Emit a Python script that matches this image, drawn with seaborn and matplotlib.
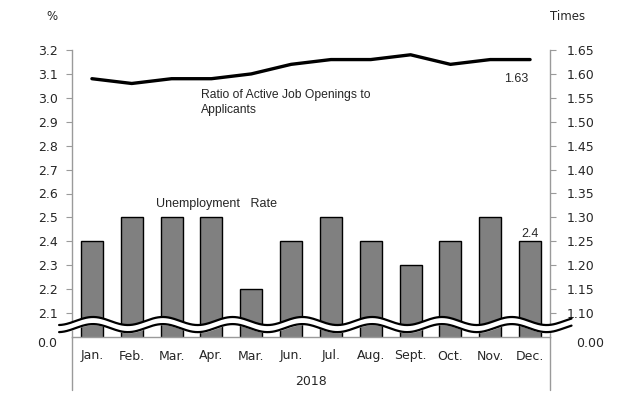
import numpy as np
import pandas as pd
import matplotlib
matplotlib.use("Agg")
import matplotlib.pyplot as plt
import seaborn as sns

# chart data
months = ["Jan.", "Feb.", "Mar.", "Apr.", "Mar.", "Jun.", "Jul.", "Aug.", "Sept.", "Oct.", "Nov.", "Dec."]
unemployment_rate = [2.4, 2.5, 2.5, 2.5, 2.2, 2.4, 2.5, 2.4, 2.3, 2.4, 2.5, 2.4]
job_ratio = [1.59, 1.58, 1.59, 1.59, 1.60, 1.62, 1.63, 1.63, 1.64, 1.62, 1.63, 1.63]
left_ticks = [2.1, 2.2, 2.3, 2.4, 2.5, 2.6, 2.7, 2.8, 2.9, 3.0, 3.1, 3.2]
right_ticks = [1.10, 1.15, 1.20, 1.25, 1.30, 1.35, 1.40, 1.45, 1.50, 1.55, 1.60, 1.65]
year_label = "2018"

df = pd.DataFrame({"pos": range(len(months)), "rate": unemployment_rate, "ratio": job_ratio})

sns.set_style("white")
plt.rcParams["font.family"] = ["DejaVu Sans"]
GRAY = "#9a9a9a"

fig = plt.figure(figsize=(6.37, 3.93), dpi=100)
ax = fig.add_axes([72 / 637, 1 - 337 / 393, 478 / 637, 287 / 393])

sns.barplot(data=df, x="pos", y="rate", color="#808080", edgecolor="black",
            linewidth=1.0, width=0.55, saturation=1, ax=ax)
ax.set_ylim(2.0, 3.2)
ax.set_xlim(-0.5, len(months) - 0.5)
ax.set_yticks(left_ticks)
ax.set_yticklabels([f"{v:.1f}" for v in left_ticks])
ax.set_xticks(range(len(months)))
ax.set_xticklabels(months)
ax.set_xlabel("")
ax.set_ylabel("")

ax2 = ax.twinx()
sns.lineplot(data=df, x="pos", y="ratio", color="black", linewidth=2.4, ax=ax2)
ax2.set_ylim(1.05, 1.65)
ax2.set_yticks(right_ticks)
ax2.set_yticklabels([f"{v:.2f}" for v in right_ticks])
ax2.set_xlim(-0.5, len(months) - 0.5)
ax2.set_ylabel("")
ax2.set_xlabel("")

for a in (ax, ax2):
    for side in ("left", "right", "bottom"):
        a.spines[side].set_color(GRAY)
        a.spines[side].set_linewidth(1.0)
    a.spines["top"].set_visible(False)
ax.spines["right"].set_visible(False)
ax2.spines["left"].set_visible(False)
ax2.spines["bottom"].set_visible(False)

ax.tick_params(axis="y", direction="out", length=4, color=GRAY, labelsize=9, pad=6, left=True)
ax.tick_params(axis="x", length=0, labelsize=9, pad=9)
ax2.tick_params(axis="y", direction="out", length=4, color=GRAY, labelsize=9, pad=8, right=True)

# broken-axis zero labels
ax.text(-0.032, -0.022, "0.0", transform=ax.transAxes, ha="right", va="center", fontsize=9)
ax2.text(1.055, -0.022, "0.00", transform=ax2.transAxes, ha="left", va="center", fontsize=9)

# category box lines and year label
for xv in (0, 1):
    ax.plot([xv, xv], [0, -0.185], transform=ax.transAxes, color=GRAY, lw=1.0, clip_on=False)
ax.text(0.5, -0.155, year_label, transform=ax.transAxes, ha="center", va="center", fontsize=9)

# axis titles
fig.text(52 / 637, 1 - 17 / 393, "%", ha="center", va="center", fontsize=8.5)
fig.text(568 / 637, 1 - 17 / 393, "Times", ha="center", va="center", fontsize=8.5)

# wavy break band
xs = np.linspace(-0.027, 1.045, 400)
period = 0.146
wave = 0.014 * np.cos(2 * np.pi * (xs - 0.044) / period)
upper = 0.0557 + wave
lower = 0.031 + wave
ax2.fill_between(xs, lower, upper, color="white", transform=ax2.transAxes, clip_on=False, zorder=5)
ax2.plot(xs, upper, color="black", lw=1.6, transform=ax2.transAxes, clip_on=False, zorder=6)
ax2.plot(xs, lower, color="black", lw=1.6, transform=ax2.transAxes, clip_on=False, zorder=6)

# annotations
ann = ["Calibri", "Liberation Sans", "DejaVu Sans"]
ax.text(3.12, 2.53, "Unemployment   Rate", ha="center", va="bottom", fontsize=9, family=ann)
ax.text(11, unemployment_rate[-1] + 0.005, f"{unemployment_rate[-1]:.1f}", ha="center", va="bottom",
        fontsize=9, family=ann)
ax2.text(2.75, 1.568, "Ratio of Active Job Openings to\nApplicants", ha="left", va="top",
         fontsize=8.7, family=ann, linespacing=1.35)
ax2.text(10.95, 1.602, f"{job_ratio[-1]:.2f}", ha="right", va="top",
         fontsize=9, family=ann)

fig.savefig("out.png", dpi=100)
